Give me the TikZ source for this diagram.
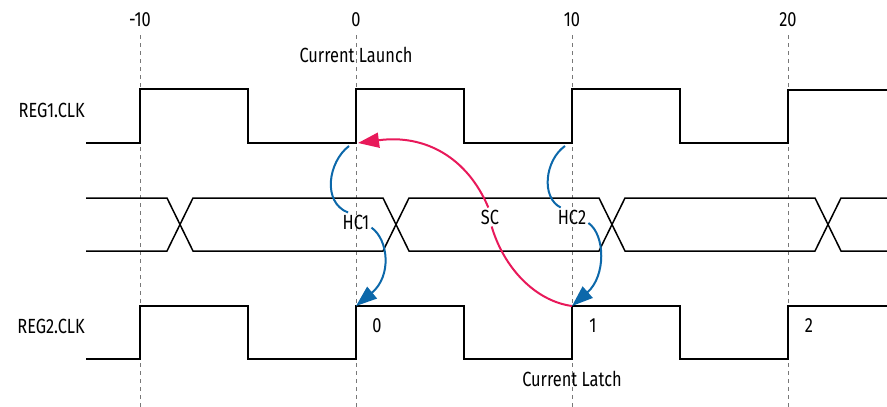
\documentclass[tikz,border=0pt]{standalone}
\usepackage{fontspec}
\setmainfont{Fira Sans}[FakeStretch=0.8]
\usepackage{tikz}
\usetikzlibrary{arrows.meta, positioning, calc}
\definecolor{holdblue}{RGB}{12, 104, 170}
\definecolor{setupred}{RGB}{232, 25, 90}
\definecolor{gridgray}{RGB}{120, 120, 120}

\begin{document}
\begin{tikzpicture}[
        x=1pt, y=-1pt,
        lbl/.style={font=\fontsize{20.5}{22}\selectfont, inner sep=2pt},
        wave/.style={line width=1.5pt, black, line join=miter},
        grid/.style={gridgray, line width=0.9pt, dash pattern=on 4pt off 4pt},
        hold/.style={holdblue, line width=2pt},
        setup/.style={setupred, line width=2pt},
        tip/.style={-{Triangle[length=21pt, width=15pt]}}
    ]
        \useasboundingbox (0,0) rectangle (887,407);

        % Time grid
        \foreach \t/\x in {-10/140, 0/356, 10/572, 20/788} {
            \draw[grid] (\x,35) -- (\x,407);
            \node[lbl] (t\x) at (\x,20) {\t};
        }
        \node[lbl] (launchtxt) at (356,55) {Current Launch};
        \node[lbl] (latchtxt) at (572,379) {Current Latch};

        % Waveforms
        \node[lbl, anchor=east] (reg1) at (87,110) {REG1.CLK};
        \node[lbl, anchor=east] (reg2) at (87,326) {REG2.CLK};
        \draw[wave] (86,143) -- (140,143) -- (140,89) -- (248,89) -- (248,143)
            -- (356,143) -- (356,89) -- (464,89) -- (464,143) -- (572,143)
            -- (572,89) -- (680,89) -- (680,143) -- (788,143) -- (788,90) -- (887,90);
        \draw[wave] (86,198) -- (167,198) -- (193,251) -- (383,251) -- (409,198)
            -- (599,198) -- (625,251) -- (815,251) -- (841,198) -- (887,198);
        \draw[wave] (86,251) -- (167,251) -- (193,198) -- (383,198) -- (409,251)
            -- (599,251) -- (625,198) -- (815,198) -- (841,251) -- (887,251);
        \draw[wave] (86,359) -- (140,359) -- (140,306) -- (248,306) -- (248,359)
            -- (356,359) -- (356,306) -- (464,306) -- (464,359) -- (572,359)
            -- (572,306) -- (680,306) -- (680,359) -- (788,359) -- (788,306) -- (887,306);

        % Edges
        \coordinate (launch0) at (356,143);
        \coordinate (launch1) at (572,143);
        \coordinate (latch0) at (356,306);
        \coordinate (latch1) at (572,306);

        % Labels
        \node[lbl] (hc1) at (356,222) {HC1};
        \node[lbl] (sc) at (490,217) {SC};
        \node[lbl] (hc2) at (572,217) {HC2};
        \node[lbl] (n0) at (377,326) {0};
        \node[lbl] (n1) at (593,326) {1};
        \node[lbl] (n2) at (809,326) {2};

        % Connections
        \draw[hold] ([shift={(-7,3)}]launch0) .. controls +(-21,16) and +(-26,-10) .. (hc1.130);
        \draw[hold, tip] (hc1.-20) .. controls +(17,12) and +(36,-30) .. (latch0);
        \draw[hold] ([shift={(-7,3)}]launch1) .. controls +(-20,14) and +(-20,-10) .. (hc2.140);
        \draw[hold, tip] (hc2.-20) .. controls +(17,12) and +(34,-30) .. (latch1);
        \draw[setup, tip] (sc.100) .. controls +(-21,-50) and +(67,-9) .. ([xshift=2]launch0);
        \draw[setup] (sc.-80) .. controls +(12,41) and +(-37,-5) .. (latch1);
    \end{tikzpicture}
\end{document}
